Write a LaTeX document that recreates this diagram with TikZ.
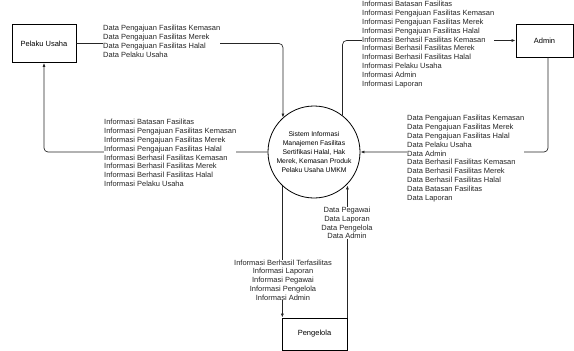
\documentclass[tikz,border=0pt]{standalone}
\usepackage{fontspec}
\setmainfont{Liberation Sans}
\usetikzlibrary{arrows.meta}
\begin{document}
\begin{tikzpicture}[x=1pt,y=-1pt,
  font=\fontsize{7.5pt}{8.8pt}\selectfont,
  entity/.style={draw=black, line width=0.8pt, minimum width=64pt, minimum height=38pt, inner sep=0pt},
  proc/.style={draw=black, line width=0.8pt, circle, minimum size=92pt, inner sep=0pt, align=center, font=\fontsize{6.8pt}{8.8pt}\selectfont},
  flow/.style={draw=black!85, line width=0.7pt, rounded corners=4pt, -{Latex[length=4pt,width=3pt]}},
  lbl/.style={fill=white, inner sep=0pt, text=black!85},
]
\useasboundingbox (0,0) rectangle (574,351);

\node[entity] (pu) at (44,43.5) {Pelaku Usaha};
\node[entity, minimum width=57pt, minimum height=33pt] (admin) at (544.5,40.5) {Admin};
\node[entity, minimum width=65pt, minimum height=32pt] (peng) at (314.5,334) {Pengelola};
\node[proc] (sys) at (314,152) {Sistem Informasi\\Manajemen Fasilitas\\Sertifikasi Halal, Hak\\Merek, Kemasan Produk\\Pelaku Usaha UMKM};

\coordinate (admout) at ([xshift=3.5pt]admin.south);

\draw[flow] (pu.east) -| (sys.132.4);
\draw[flow] (sys.52.5) |- (admin.west);
\draw[flow] (admout) |- (sys.east);
\draw[flow] (sys.west) -| (pu.south);
\draw[flow] (sys.227.6) -- (sys.227.6 |- peng.north);
\draw[flow] (peng.north east) -- (peng.north east |- sys.314.1);

\node[lbl, anchor=west, align=left] (l1) at (103,41.5) {Data Pengajuan Fasilitas Kemasan\\Data Pengajuan Fasilitas Merek\\Data Pengajuan Fasilitas Halal\\Data Pelaku Usaha};
\node[lbl, anchor=west, align=left] (l2) at (362,44.5) {Informasi Batasan Fasilitas\\Informasi Pengajuan Fasilitas Kemasan\\Informasi Pengajuan Fasilitas Merek\\Informasi Pengajuan Fasilitas Halal\\Informasi Berhasil Fasilitas Kemasan\\Informasi Berhasil Fasilitas Merek\\Informasi Berhasil Fasilitas Halal\\Informasi Pelaku Usaha\\Informasi Admin\\Informasi Laporan};
\node[lbl, anchor=west, align=left] (l3) at (104,153) {Informasi Batasan Fasilitas\\Informasi Pengajuan Fasilitas Kemasan\\Informasi Pengajuan Fasilitas Merek\\Informasi Pengajuan Fasilitas Halal\\Informasi Berhasil Fasilitas Kemasan\\Informasi Berhasil Fasilitas Merek\\Informasi Berhasil Fasilitas Halal\\Informasi Pelaku Usaha};
\node[lbl, anchor=west, align=left] (l4) at (407,158.5) {Data Pengajuan Fasilitas Kemasan\\Data Pengajuan Fasilitas Merek\\Data Pengajuan Fasilitas Halal\\Data Pelaku Usaha\\Data Admin\\Data Berhasil Fasilitas Kemasan\\Data Berhasil Fasilitas Merek\\Data Berhasil Fasilitas Halal\\Data Batasan Fasilitas\\Data Laporan};
\node[lbl, align=center] (l5) at (347,223) {Data Pegawai\\Data Laporan\\Data Pengelola\\Data Admin};
\node[lbl, align=center] (l6) at (283,280) {Informasi Berhasil Terfasilitas\\Informasi Laporan\\Informasi Pegawai\\Informasi Pengelola\\Informasi Admin};
\end{tikzpicture}
\end{document}
